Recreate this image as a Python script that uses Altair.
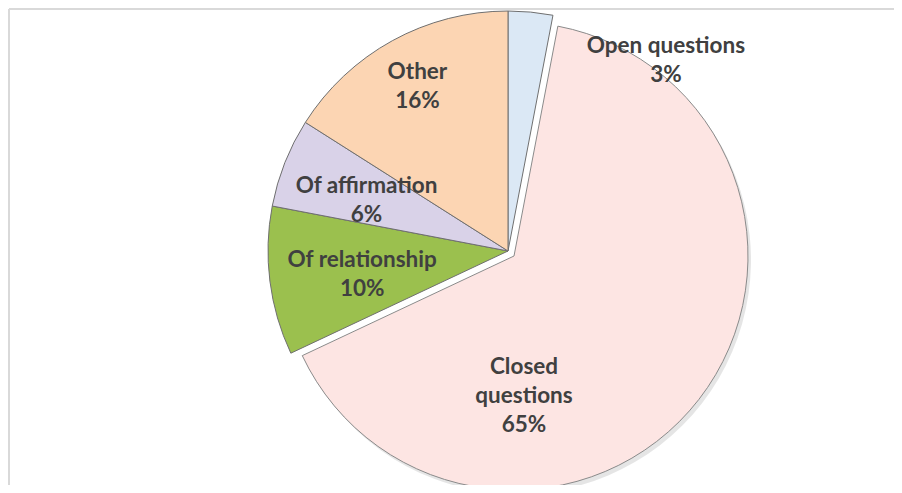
import math
import altair as alt
import pandas as pd

# ---- data -------------------------------------------------------------
categories = ["Open questions", "Closed questions", "Of relationship", "Of affirmation", "Other"]
label_lines = ["Open questions", "Closed\nquestions", "Of relationship", "Of affirmation", "Other"]
values = [3, 65, 10, 6, 16]
colors = ["#dbe8f5", "#fde5e3", "#9bc04e", "#d9d2e8", "#fcd5b3"]

df = pd.DataFrame({
    "category": categories,
    "label": label_lines,
    "value": values,
    "order": list(range(len(categories))),
})
df["text"] = df["label"] + "\n" + df["value"].astype(str) + "%"

# ---- layout (styling) -------------------------------------------------
W, H = 886, 477
CX, CY = 499, 242      # pie centre
R = 240
EX, EY = 505, 247      # exploded slice centre
RE = 234
EXPLODED = "Closed questions"
FS, LH = 22.5, 29

base = alt.Chart(df).transform_window(
    end="sum(value)", sort=[alt.SortField("order")], frame=[None, 0]
).transform_calculate(
    start="datum.end - datum.value",
    mid="datum.end - datum.value / 2",
)

theta_scale = alt.Scale(domain=[0, 100], range=[0, 2 * math.pi])
color = alt.Color("category:N", scale=alt.Scale(domain=categories, range=colors), legend=None)
theta = alt.Theta("start:Q", scale=theta_scale)
theta2 = alt.Theta2("end:Q")

shadow = base.transform_filter(f"datum.category == '{EXPLODED}'").mark_arc(
    outerRadius=RE, color="#000000", opacity=0.10
).encode(theta=theta, theta2=theta2, x=alt.value(EX + 3), y=alt.value(EY + 4))

slices = base.transform_filter(f"datum.category != '{EXPLODED}'").mark_arc(
    outerRadius=R, stroke="#6f6f6f", strokeWidth=1
).encode(theta=theta, theta2=theta2, color=color, x=alt.value(CX), y=alt.value(CY))

closed = base.transform_filter(f"datum.category == '{EXPLODED}'").mark_arc(
    outerRadius=RE, stroke="#8a8a8a", strokeWidth=1
).encode(theta=theta, theta2=theta2, color=color, x=alt.value(EX), y=alt.value(EY))

frame_df = pd.DataFrame({"k": [0]})
top_rule = alt.Chart(frame_df).mark_rule(color="#d9d9d9", strokeWidth=2).encode(
    x=alt.value(0), x2=alt.value(W), y=alt.value(0)
)
left_rule = alt.Chart(frame_df).mark_rule(color="#d9d9d9", strokeWidth=2).encode(
    x=alt.value(0), y=alt.value(0), y2=alt.value(H)
)

# label placement: (radius, dx, dy of block centre, centre)
label_style = {
    "Open questions": (190, 140, -1, (CX, CY)),
    "Closed questions": (100, -69, 79, (EX, EY)),
    "Of relationship": (147, 0, 5, (CX, CY)),
    "Of affirmation": (150, -2, 5, (CX, CY)),
    "Other": (188, 0, 0, (CX, CY)),
}

texts = []
for cat, lab in zip(categories, label_lines):
    r, dx, dy, (ox, oy) = label_style[cat]
    n_lines = lab.count("\n") + 2
    texts.append(
        base.transform_filter(f"datum.category == '{cat}'").mark_text(
            radius=r, dx=dx, dy=dy - (n_lines - 1) * LH / 2,
            font="Lato", fontSize=FS, fontWeight="bold",
            color="#404040", lineBreak="\n", lineHeight=LH, align="center", baseline="middle"
        ).encode(theta=alt.Theta("mid:Q", scale=theta_scale), text="text:N",
                 x=alt.value(ox), y=alt.value(oy))
    )

chart = alt.layer(top_rule, left_rule, shadow, slices, closed, *texts).properties(
    width=W, height=H, padding=0,
    autosize=alt.AutoSizeParams(type="fit", contains="padding"),
    view=alt.ViewBackground(stroke="#ffffff", strokeWidth=0, strokeOpacity=0),
).configure_view(strokeWidth=0, stroke="#ffffff", strokeOpacity=0).configure(background="#ffffff")

chart.save("out.html", embed_options={"renderer": "svg", "actions": False})
